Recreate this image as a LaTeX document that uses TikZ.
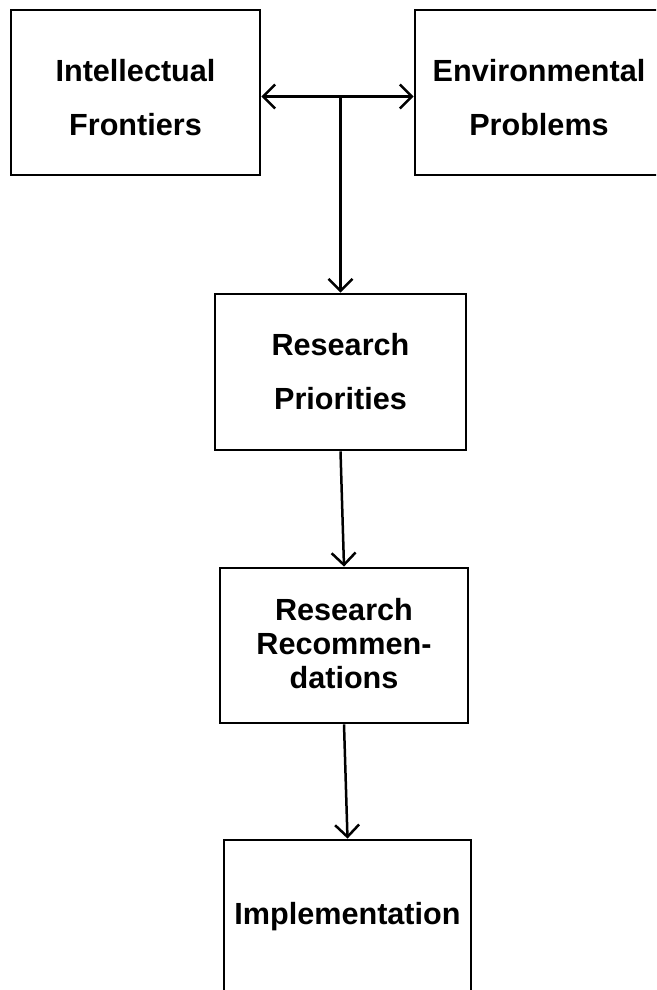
\documentclass[tikz,border=0pt]{standalone}
\usepackage{fontspec}
\setmainfont{Liberation Sans}
\usepackage{tikz}
\usetikzlibrary{arrows.meta, positioning}

\newcommand{\boxtext}[2]{\raisebox{#1}[\height][\depth]{\parbox{240pt}{\centering #2}}}

\begin{document}
\begin{tikzpicture}[x=1pt, y=-1pt,
    blockbox/.style={draw=black, line width=2.8pt, inner sep=0pt, align=center,
      minimum width=249pt, font=\bfseries\fontsize{30.6}{54}\selectfont},
    flowarrow/.style={line width=2.5pt, -{Straight Barb[length=12pt, width=24pt, line width=2.5pt]}}]
  \useasboundingbox (0,0) rectangle (656,990);
  \clip (0,0) rectangle (656,990);

  % Top row
  \node[blockbox, minimum height=165pt] (intel) at (135.5, 92.5) {\boxtext{-5.4pt}{Intellectual\\Frontiers}};
  \node[blockbox, minimum height=165pt, minimum width=248pt] (envir) at (539, 92.5) {\boxtext{-5.4pt}{Environmental\\Problems}};

  % Chain
  \node[blockbox, minimum height=156pt, minimum width=251pt] (prio) at (340.5, 372) {Research\\Priorities};
  \node[blockbox, minimum height=155pt, minimum width=248pt, font=\bfseries\fontsize{30.6}{34}\selectfont] (recom) at (344, 645.5) {\boxtext{2pt}{Research\\Recommen-\\dations}};
  \node[blockbox, minimum height=160pt, minimum width=247pt] (impl) at (347.5, 920) {\raisebox{3pt}[\height][\depth]{Implementation}};

  % Connectors
  \draw[flowarrow, {Straight Barb[length=12pt, width=24pt, line width=2.5pt]}-{Straight Barb[length=12pt, width=24pt, line width=2.5pt]}] ([yshift=-4pt]intel.east) -- ([yshift=-4pt]envir.west);
  \coordinate (split) at (340.5, 96.5);
  \draw[flowarrow] (split) -- (prio.north);
  \draw[flowarrow] (prio.south) -- (recom.north);
  \draw[flowarrow] (recom.south) -- (impl.north);
\end{tikzpicture}
\end{document}
